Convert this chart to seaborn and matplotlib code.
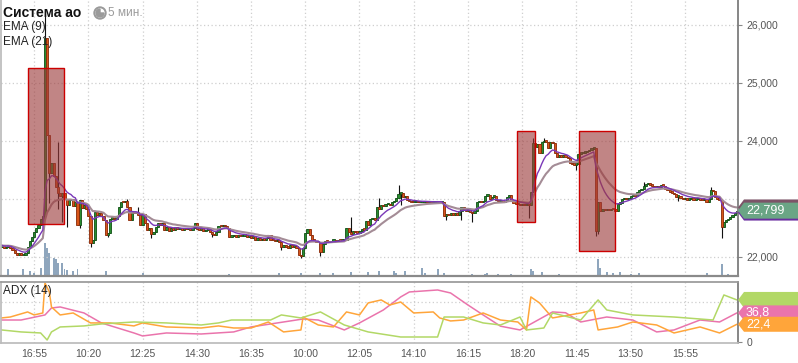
import numpy as np
import pandas as pd
import matplotlib
matplotlib.use("Agg")
import matplotlib.pyplot as plt
import seaborn as sns
from matplotlib.patches import Polygon, Rectangle, Circle, Wedge
from matplotlib.transforms import IdentityTransform
from matplotlib.ticker import FuncFormatter

# ---------------- data ----------------
first_open = 22180
closes = [
    22200, 22150, 22180, 22200, 22160, 22120, 22060, 22040, 22060, 22030,
    22040, 22070, 22180, 22280, 22350, 22430, 22500, 22560, 22660, 22700,
    25770, 24100, 23450, 23620, 23400, 23200, 23100, 23050, 23100, 23000,
    22900, 22980, 23000, 22880, 22950, 22560, 22980, 22850, 22900, 22820,
    22700, 22240, 22300, 22780, 22720, 22760, 22700, 22640, 22380, 22420,
    22660, 22680, 22650, 22700, 22860, 22950, 22940, 22960, 22860, 22640,
    22780, 22760, 22780, 22720, 22560, 22740, 22580, 22470, 22500, 22400,
    22430, 22520, 22580, 22560, 22580, 22470, 22520, 22440, 22500, 22460,
    22520, 22480, 22500, 22470, 22490, 22480, 22500, 22470, 22500, 22580,
    22480, 22470, 22500, 22450, 22470, 22480, 22430, 22400, 22380, 22430,
    22540, 22530, 22550, 22530, 22500, 22350, 22360, 22380, 22350, 22370,
    22360, 22370, 22380, 22350, 22360, 22330, 22360, 22300, 22320, 22290,
    22310, 22300, 22330, 22380, 22300, 22290, 22270, 22290, 22260, 22170,
    22200, 22180, 22160, 22200, 22180, 22190, 22160, 22040, 22020, 22150,
    22420, 22480, 22380, 22300, 22280, 22250, 22260, 22080, 22230, 22280,
    22270, 22260, 22280, 22290, 22270, 22290, 22280, 22290, 22300, 22500,
    22430, 22400, 22440, 22430, 22420, 22440, 22480, 22470, 22620, 22560,
    22650, 22680, 22640, 22860, 22820, 22900, 22880, 22910, 22920, 22900,
    22940, 22960, 23010, 23090, 23100, 23030, 23060, 22990, 22960, 22950,
    22950, 22960, 22940, 22950, 22950, 22960, 22950, 22950, 22940, 22950,
    22950, 22960, 22950, 22950, 22700, 22740, 22720, 22760, 22730, 22760,
    22720, 22790, 22860, 22830, 22800, 22830, 22780, 22760, 22800, 22940,
    22950, 22940, 22960, 23060, 23070, 23000, 23040, 23060, 22980, 22960,
    22980, 22950, 22970, 23040, 23070, 22980, 22930, 22920, 22910, 22900,
    22910, 22900, 22905, 22900, 23120, 23970, 23900, 23950, 23800, 23980,
    24000, 23990, 23880, 23990, 23960, 23800, 23720, 23760, 23730, 23750,
    23720, 23700, 23620, 23600, 23590, 23600, 23780, 23790, 23800, 23810,
    23820, 23850, 23870, 23880, 22450, 22950, 22800, 22830, 22810, 22820,
    22810, 22830, 22820, 22800, 22920, 22930, 23000, 23010, 23000, 23020,
    23050, 23060, 23050, 23120, 23150, 23180, 23230, 23260, 23280, 23240,
    23230, 23210, 23220, 23200, 23240, 23230, 23180, 23150, 23120, 23110,
    23080, 23040, 23060, 23010, 23000, 23020, 22990, 23000, 23010, 22990,
    23000, 23020, 22990, 22980, 23000, 22950, 23000, 23150, 23130, 23040,
    23000, 22990, 22520, 22600, 22640, 22660, 22690, 22720, 22760, 22799,
]
wick_hi = {20: 26200, 26: 23980, 58: 23000, 63: 22860, 161: 22690, 169: 22600,
           174: 23020, 183: 23240, 245: 24050, 250: 24050, 266: 23900,
           296: 23300, 327: 23200}
wick_lo = {22: 22930, 26: 22820, 28: 22600, 30: 22520, 36: 22500, 41: 22180,
           49: 22340, 69: 22330, 97: 22340, 129: 22120, 138: 21990, 147: 22010,
           184: 22900, 205: 22640, 212: 22640, 217: 22600, 243: 22670,
           265: 23500, 274: 22360, 275: 22400, 312: 22960, 332: 22330}

vol_idx = [3, 10, 13, 15, 18, 20, 21, 22, 24, 25, 26, 28, 29, 30, 33, 35, 48,
           65, 105, 128, 138, 147, 153, 161, 169, 174, 181, 182, 186, 194, 195,
           201, 204, 217, 223, 224, 229, 235, 244, 245, 249, 257, 275, 276, 279,
           282, 285, 290, 294, 325, 332, 335]
vol_val = [70, 70, 50, 30, 80, 330, 280, 230, 180, 170, 130, 130, 70, 60, 50,
           70, 50, 30, 20, 30, 30, 30, 30, 40, 40, 50, 50, 30, 50, 80, 30, 70,
           30, 20, 20, 30, 20, 20, 70, 50, 40, 20, 170, 80, 40, 30, 40, 20, 30,
           30, 120, 20]

zones = [(12.4, 29.0, 22570, 25260), (237.7, 246.0, 22600, 24170),
         (266.3, 283.0, 22100, 24170)]

time_labels = ['16:55', '10:20', '12:25', '14:30', '16:35', '10:00', '12:05',
               '14:10', '16:15', '18:20', '11:45', '13:50', '15:55']
label_pos = [15, 40, 65, 90, 115, 140, 165, 190, 215, 240, 265, 290, 315]

adx_i = [0, 9, 20, 23, 27, 38, 46, 61, 65, 76, 92, 107, 115, 130, 139, 146,
         158, 165, 176, 184, 188, 201, 207, 215, 222, 230, 239, 254, 260, 267,
         279, 291, 302, 310, 322, 331, 339]
adx_v = [27.8, 27.8, 34.2, 43.0, 44.3, 36.7, 24.1, 11.4, 7.6, 11.4, 10.1,
         12.7, 19.0, 25.3, 29.1, 27.8, 15.2, 24.1, 40.5, 57.0, 63.3, 65.8,
         62.0, 46.8, 34.2, 20.0, 15.2, 38.0, 37.0, 25.3, 31.6, 27.8, 12.7,
         15.2, 27.8, 25.3, 36.8]
pdi_i = [0, 4, 12, 15, 19, 20, 22, 23, 27, 33, 41, 50, 61, 65, 76, 92, 100,
         107, 115, 123, 130, 138, 139, 146, 153, 159, 165, 169, 175, 179, 184,
         190, 199, 202, 207, 213, 222, 230, 238, 242, 244, 248, 254, 267, 273,
         275, 284, 291, 302, 310, 322, 331, 339]
pdi_v = [30.4, 31.6, 38.0, 34.2, 36.7, 74.7, 63.3, 44.3, 34.2, 36.7, 24.1,
         24.1, 20.3, 24.1, 19.0, 17.7, 20.3, 17.7, 17.7, 25.3, 12.7, 15.2,
         31.6, 21.5, 19.0, 38.0, 34.2, 49.4, 53.2, 46.8, 50.6, 36.7, 38.0,
         30.4, 26.6, 27.8, 36.7, 27.8, 25.3, 15.2, 57.0, 49.4, 30.4, 36.7,
         40.5, 15.2, 19.0, 25.3, 21.5, 11.4, 19.0, 11.4, 22.4]
mdi_i = [0, 9, 18, 21, 23, 27, 38, 46, 61, 76, 92, 100, 106, 115, 124, 129,
         138, 147, 158, 169, 184, 201, 204, 213, 222, 230, 239, 242, 250, 254,
         267, 275, 279, 291, 310, 328, 333, 339]
mdi_v = [15.2, 12.7, 11.4, 2.5, 12.7, 19.0, 20.3, 22.8, 25.3, 24.1, 21.5,
         24.1, 27.8, 27.8, 27.8, 34.2, 30.4, 38.0, 21.5, 12.7, 6.3, 6.3, 31.6,
         31.6, 24.1, 21.5, 31.6, 15.2, 17.7, 36.7, 27.8, 53.2, 40.5, 34.2,
         31.6, 27.8, 59.5, 53.2]

# ---------------- derived ----------------
n = len(closes)
idx = np.arange(n)
c = np.array(closes, dtype=float)
o = np.concatenate([[first_open], c[:-1]])
hi = np.maximum(o, c)
lo = np.minimum(o, c)
for k, v in wick_hi.items():
    hi[k] = max(hi[k], v)
for k, v in wick_lo.items():
    lo[k] = min(lo[k], v)
ema9 = pd.Series(c).ewm(span=9, adjust=False).mean().values
ema21 = pd.Series(c).ewm(span=21, adjust=False).mean().values

# ---------------- style ----------------
sns.set_theme(style="white")
plt.rcParams['font.family'] = ['Liberation Sans', 'DejaVu Sans']

W, H = 798, 363
fig = plt.figure(figsize=(W / 100, H / 100), dpi=100)
ax = fig.add_axes([0.5 / W, 1 - 276 / H, 737.5 / W, 276 / H])
ax2 = fig.add_axes([0.5 / W, 1 - 343 / H, 737.5 / W, 61 / H], sharex=ax)

ax.set_xlim(-0.5, n - 0.5)
ax.set_ylim(21672, 26431)
ax2.set_ylim(-1.3, 75.9)

grid_kw = dict(color='#cfcfcf', linestyle=(0, (1, 2)), linewidth=0.9, zorder=0)
for p in label_pos:
    ax.axvline(p, **grid_kw)
    ax2.axvline(p, **grid_kw)
for lvl in [22000, 23000, 24000, 25000, 26000]:
    ax.axhline(lvl, **grid_kw)
ax2.axhline(50, **grid_kw)

# volume: drawn on a hidden scale whose top is 2760 units over the panel height
axv = ax.twinx()
axv.set_ylim(0, 2760)
axv.bar(vol_idx, vol_val, width=0.9, color='#8fa6bd', linewidth=0, zorder=1)
axv.set_yticks([])
for s in axv.spines.values():
    s.set_visible(False)
axv.set_zorder(ax.get_zorder() - 1)
ax.patch.set_visible(False)

# candles
up = c >= o
body_lo = np.minimum(o, c)
body_h = np.maximum(np.abs(c - o), 22)
ax.vlines(idx, lo, hi, color='#111111', linewidth=0.8, zorder=2)
ax.bar(idx[up], body_h[up], bottom=body_lo[up], width=1.0,
       color='#2a8c30', edgecolor='#0f4f14', linewidth=0.6, zorder=3)
ax.bar(idx[~up], body_h[~up], bottom=body_lo[~up], width=1.0,
       color='#d8561a', edgecolor='#8a2806', linewidth=0.6, zorder=3)

# EMAs
sns.lineplot(x=idx, y=ema21, ax=ax, color='#a48c96', linewidth=1.5, zorder=4)
sns.lineplot(x=idx, y=ema9, ax=ax, color='#7a38b8', linewidth=1.0, zorder=5)

# highlighted zones
for x0, x1, y0, y1 in zones:
    ax.add_patch(Rectangle((x0, y0), x1 - x0, y1 - y0, facecolor='#9c3a3a',
                           alpha=0.62, edgecolor='none', zorder=6))
    ax.add_patch(Rectangle((x0, y0), x1 - x0, y1 - y0, facecolor='none',
                           edgecolor='#cc0000', linewidth=1.0, zorder=7))

# ADX panel
sns.lineplot(x=adx_i, y=adx_v, ax=ax2, color='#ea74ac', linewidth=1.1, zorder=3)
sns.lineplot(x=pdi_i, y=pdi_v, ax=ax2, color='#ffa53a', linewidth=1.1, zorder=3)
sns.lineplot(x=mdi_i, y=mdi_v, ax=ax2, color='#b2d866', linewidth=1.1, zorder=3)

# axes cosmetics
tick_kw = dict(labelsize=7.5, labelcolor='#555555', colors='#888888')
ax.yaxis.tick_right()
ax.set_yticks([22000, 24000, 25000, 26000])
ax.yaxis.set_major_formatter(FuncFormatter(lambda v, p: f'{int(v):,}'))
ax.tick_params(axis='y', length=3, width=0.8, pad=3, **tick_kw)
ax.tick_params(axis='x', bottom=False, labelbottom=False)
ax2.yaxis.tick_right()
ax2.set_yticks([0])
ax2.tick_params(axis='y', length=3, width=0.8, pad=3, **tick_kw)
ax2.set_xticks(label_pos)
ax2.set_xticklabels(time_labels)
ax2.tick_params(axis='x', length=0, pad=4, **tick_kw)
for a in (ax, ax2):
    a.set_xlabel('')
    a.set_ylabel('')
ax.spines['top'].set_visible(False)
ax.spines['left'].set_color('#bbbbbb')
ax.spines['right'].set_color('#777777')
ax.spines['bottom'].set_color('#8a8a8a')
ax.spines['bottom'].set_linewidth(1.6)
ax2.spines['top'].set_color('#999999')
ax2.spines['left'].set_color('#bbbbbb')
ax2.spines['right'].set_color('#777777')
ax2.spines['bottom'].set_color('#bbbbbb')
for a in (ax, ax2):
    for s in a.spines.values():
        s.set_zorder(8)

# texts
fig.text(3 / W, 1 - 13 / H, 'Система ао', fontsize=10, fontweight='bold',
         color='#111111', va='center', zorder=20)
fig.text(108 / W, 1 - 13 / H, '5 мин.', fontsize=8.5, color='#9a9a9a',
         va='center', zorder=20)
fig.text(3 / W, 1 - 27 / H, 'EMA (9)', fontsize=8.5, color='#222222',
         va='center', zorder=20)
fig.text(3 / W, 1 - 42 / H, 'EMA (21)', fontsize=8.5, color='#222222',
         va='center', zorder=20)
fig.text(3 / W, 1 - 291 / H, 'ADX (14)', fontsize=8.5, color='#222222',
         va='center', zorder=20)

ident = IdentityTransform()
fig.add_artist(Circle((100, H - 13), 6, transform=ident, color='#9a9a9a', zorder=20))
fig.add_artist(Circle((100, H - 13), 4, transform=ident, color='white', zorder=21))
fig.add_artist(Wedge((100, H - 13), 4, 90, 360, transform=ident,
                     color='#9a9a9a', zorder=22))


def tag(a, value, color, text=None, h=16):
    y = a.transData.transform((0, value))[1]
    x0 = a.transAxes.transform((1, 0))[0]
    pts = [(x0, y), (x0 + 6, y + h / 2), (W, y + h / 2), (W, y - h / 2),
           (x0 + 6, y - h / 2)]
    fig.add_artist(Polygon(pts, closed=True, transform=ident, facecolor=color,
                           edgecolor='none', zorder=30))
    if text:
        fig.text((x0 + 8) / W, y / H, text, color='white', fontsize=9,
                 va='center', ha='left', zorder=31)


tag(ax, ema21[-1], '#7c5468')
tag(ax, ema9[-1], '#6a2ea0')
tag(ax, closes[-1], '#6aa585', f'{closes[-1]:,}')
tag(ax2, mdi_v[-1], '#b2d866')
tag(ax2, adx_v[-1], '#ea74ac', f'{adx_v[-1]:.1f}'.replace('.', ','), h=15)
tag(ax2, pdi_v[-1], '#ffa53a', f'{pdi_v[-1]:.1f}'.replace('.', ','), h=15)

fig.savefig('out.png', dpi=100)
